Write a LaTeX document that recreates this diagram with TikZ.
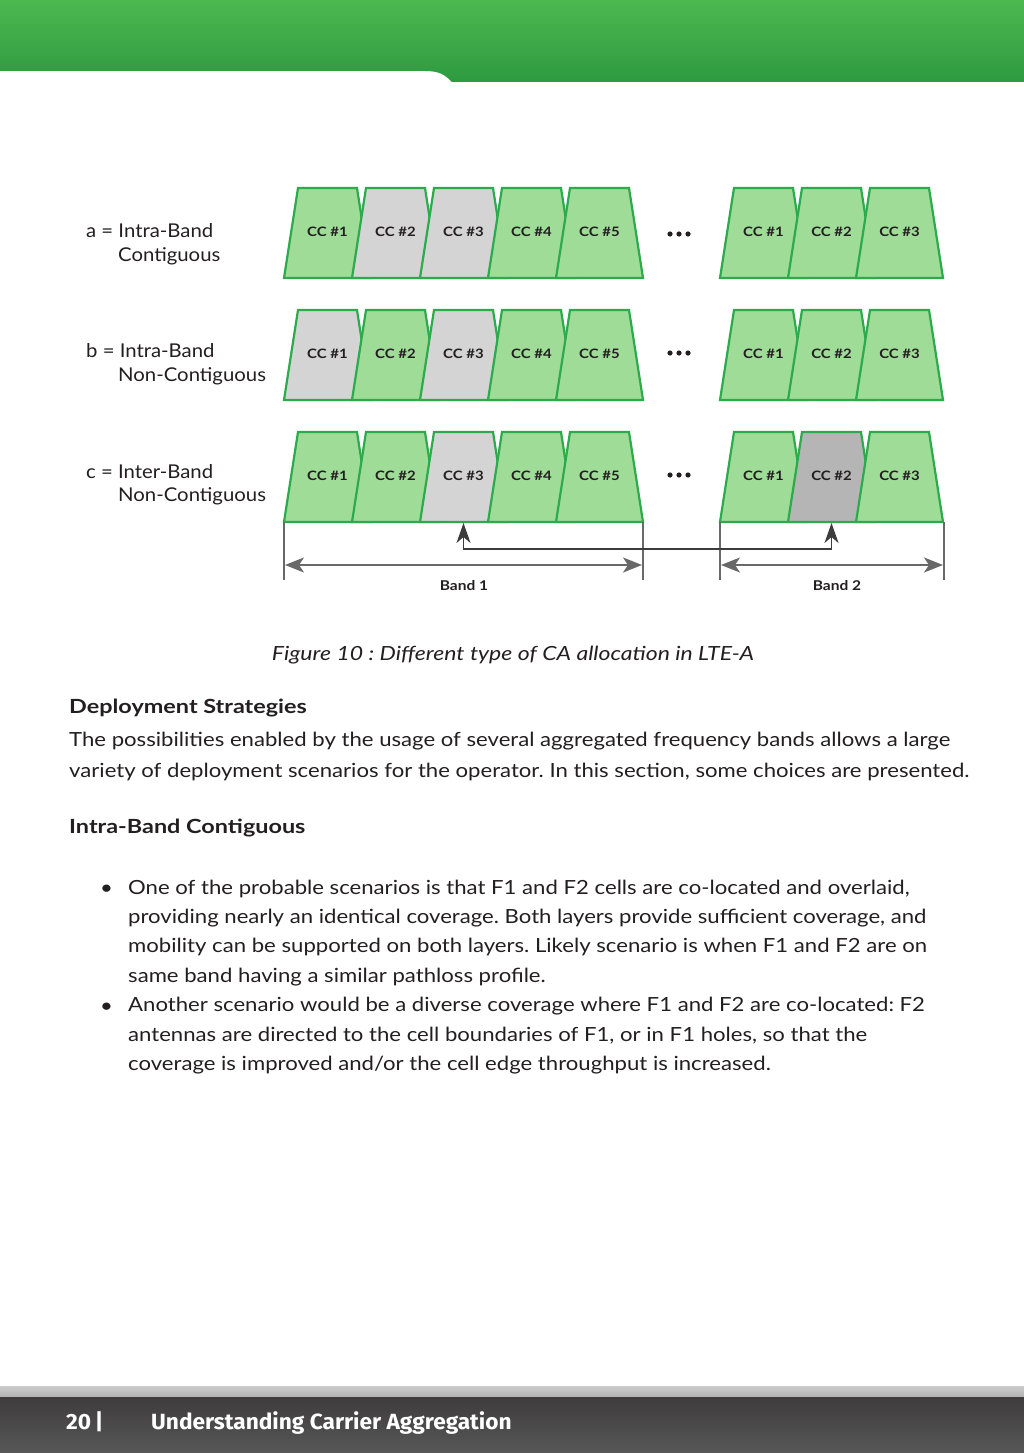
\documentclass[tikz,border=0pt]{standalone}
\usepackage{fontspec}
\setmainfont{Lato}
\newfontfamily\bodyfont[FakeStretch=1.135]{Lato}
\newfontfamily\sidefont[FakeStretch=1.07]{Lato}
\newfontfamily\capfont[FakeStretch=1.18]{Lato}
\newfontfamily\headfont[FakeStretch=1.2]{Lato}
\newfontfamily\ccfont[FakeStretch=1.15]{Lato}
\newfontfamily\footfont[FakeStretch=1.03]{Fira Sans}
\usetikzlibrary{arrows.meta}
\frenchspacing

\definecolor{ccgreen}{RGB}{158,220,152}
\definecolor{ccedge}{RGB}{44,170,76}
\definecolor{ccgray}{RGB}{212,212,212}
\definecolor{ccdark}{RGB}{181,181,181}
\definecolor{bandgray}{RGB}{105,105,105}
\definecolor{linkgray}{RGB}{60,60,60}
\definecolor{headtop}{RGB}{76,184,80}
\definecolor{headbot}{RGB}{46,154,64}
\definecolor{foottop}{RGB}{62,60,61}
\definecolor{footbot}{RGB}{88,88,88}
\definecolor{bodytext}{RGB}{35,31,32}

\tikzset{
  ccline/.style={draw=ccedge, line width=2.2pt, line join=miter},
  cclabel/.style={font=\ccfont\fontsize{13}{15}\selectfont\bfseries, text=bodytext, inner sep=0pt},
  bandline/.style={draw=bandgray, line width=1.6pt},
  bandarrow/.style={draw=bandgray, line width=1.8pt,
    {Stealth[length=19pt,width=15pt,inset=5pt]}-{Stealth[length=19pt,width=15pt,inset=5pt]}},
  link/.style={draw=linkgray, line width=1.6pt,
    {Stealth[length=20pt,width=14pt,inset=6pt]}-{Stealth[length=20pt,width=14pt,inset=6pt]}},
  bandlabel/.style={font=\ccfont\fontsize{13.5}{16}\selectfont\bfseries, text=bodytext, inner sep=0pt},
  side/.style={font=\sidefont\fontsize{19}{24}\selectfont, text=bodytext, inner sep=0pt, anchor=base west},
  body/.style={font=\bodyfont\fontsize{19.5}{24}\selectfont, text=bodytext, inner sep=0pt, anchor=base west},
  heading/.style={body, font=\headfont\fontsize{19.5}{24}\selectfont\bfseries},
  foot/.style={font=\footfont\fontsize{22}{26}\selectfont\bfseries, text=white, inner sep=0pt, anchor=base west}
}

% one carrier: bottom-left x, top y, fill, number, name
\newcommand{\carrier}[5]{%
  \draw[ccline, fill=#3] ({#1},{#2+90}) -- ++(14,-90) -- ++(59,0) -- ++(14,90) -- cycle;
  \node[cclabel] (#5) at ({#1+43.5},{#2+44}) {CC \##4};
  \coordinate (#5-b) at ({#1+43.5},{#2+91});}

\begin{document}
\begin{tikzpicture}[x=1pt, y=-1pt]
  \useasboundingbox (0,0) rectangle (1024,1453);
  \fill[white] (0,0) rectangle (1024,1453);
  % green page header
  \shade[top color=headtop, bottom color=headbot]
    (0,0) -- (1024,0) -- (1024,82) -- (452,82)
    .. controls (445,75) and (440,71) .. (425,71) -- (0,71) -- cycle;

  % row a: intra-band contiguous
  \foreach \n/\f in {1/ccgreen,2/ccgray,3/ccgray,4/ccgreen,5/ccgreen}
    \carrier{284+68*(\n-1)}{188}{\f}{\n}{a1\n};
  \foreach \n/\f in {1/ccgreen,2/ccgreen,3/ccgreen}
    \carrier{720+68*(\n-1)}{188}{\f}{\n}{a2\n};
  % row b: intra-band non-contiguous
  \foreach \n/\f in {1/ccgray,2/ccgreen,3/ccgray,4/ccgreen,5/ccgreen}
    \carrier{284+68*(\n-1)}{310}{\f}{\n}{b1\n};
  \foreach \n/\f in {1/ccgreen,2/ccgreen,3/ccgreen}
    \carrier{720+68*(\n-1)}{310}{\f}{\n}{b2\n};
  % row c: inter-band non-contiguous
  \foreach \n/\f in {1/ccgreen,2/ccgreen,3/ccgray,4/ccgreen,5/ccgreen}
    \carrier{284+68*(\n-1)}{432}{\f}{\n}{c1\n};
  \foreach \n/\f in {1/ccgreen,2/ccdark,3/ccgreen}
    \carrier{720+68*(\n-1)}{432}{\f}{\n}{c2\n};

  % dots between the bands
  \foreach \y in {234,353,475}
    \foreach \x in {670,679,688}
      \fill[bodytext] (\x,\y) circle (2.6);

  % row labels
  \node[side] (la1) at (86,237) {a = Intra-Band};
  \node[side] (la2) at (118,261) {Contiguous};
  \node[side] (lb1) at (86,357) {b = Intra-Band};
  \node[side] (lb2) at (118,381) {Non-Contiguous};
  \node[side] (lc1) at (86,478) {c = Inter-Band};
  \node[side] (lc2) at (118,501) {Non-Contiguous};

  % band extents
  \draw[bandline] (284,522) -- (284,580);
  \draw[bandline] (643,522) -- (643,580);
  \draw[bandline] (720,522) -- (720,580);
  \draw[bandline] (944,522) -- (944,580);
  \coordinate (b1w) at (285,565);
  \coordinate (b1e) at (642,565);
  \coordinate (b2w) at (721,565);
  \coordinate (b2e) at (943,565);
  \draw[bandarrow] (b1w) -- (b1e);
  \draw[bandarrow] (b2w) -- (b2e);
  \node[bandlabel] (band1) at (464,586) {Band 1};
  \node[bandlabel] (band2) at (837,586) {Band 2};

  % link between the aggregated carriers
  \draw[link] (c13-b) -- ++(0,26) -| (c22-b);

  % caption
  \node[font=\capfont\fontsize{19.5}{24}\selectfont\itshape, text=bodytext, inner sep=0pt, anchor=base]
    (caption) at (513,660) {Figure 10 : Different type of CA allocation in LTE-A};

  % text below the figure
  \node[heading] (h1) at (69,713) {Deployment Strategies};
  \node[body] (p1) at (69,746) {The possibilities enabled by the usage of several aggregated frequency bands allows a large};
  \node[body] (p2) at (69,777) {variety of deployment scenarios for the operator. In this section, some choices are presented.};
  \node[heading] (h2) at (69,833) {Intra-Band Contiguous};

  \node[body] (bu1) at (100,894) {•};
  \node[body] (bu2) at (100,1012) {•};
  \foreach \t [count=\i] in {
      {One of the probable scenarios is that F1 and F2 cells are co-located and overlaid,},
      {providing nearly an identical coverage. Both layers provide sufficient coverage, and},
      {mobility can be supported on both layers. Likely scenario is when F1 and F2 are on},
      {same band having a similar pathloss profile.},
      {Another scenario would be a diverse coverage where F1 and F2 are co-located: F2},
      {antennas are directed to the cell boundaries of F1, or in F1 holes, so that the},
      {coverage is improved and/or the cell edge throughput is increased.}}
    \node[body] (l\i) at ({128},{894+29.4*(\i-1)}) {\t};

  % grey page footer
  \shade[top color=black!20, bottom color=black!30] (0,1386) rectangle (1024,1397);
  \shade[top color=foottop, bottom color=footbot] (0,1397) rectangle (1024,1453);
  \node[foot] (pageno) at (66,1429) {20\,|};
  \node[foot] (booktitle) at (151,1429) {Understanding Carrier Aggregation};
\end{tikzpicture}
\end{document}
